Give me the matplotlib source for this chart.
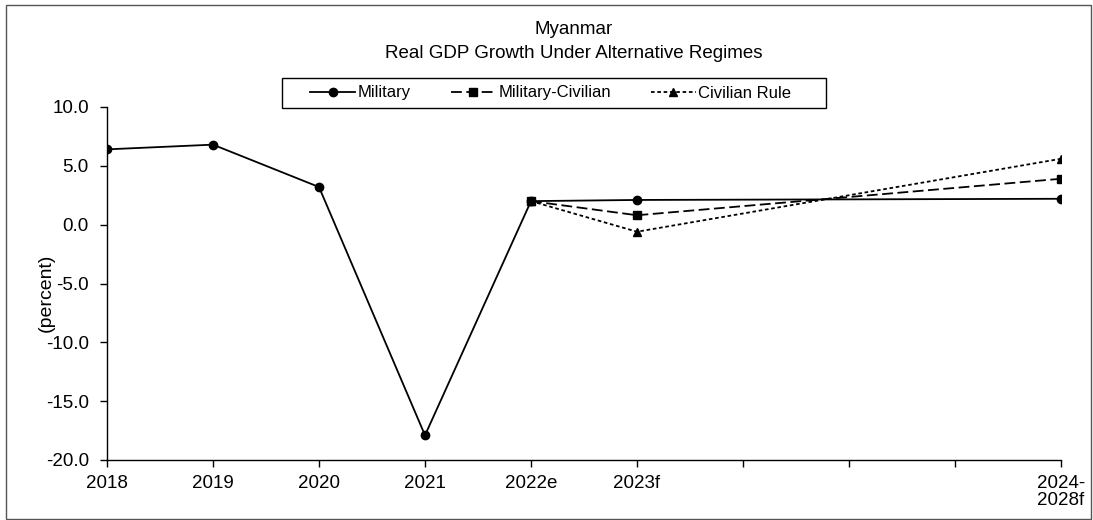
import numpy as np
import matplotlib
matplotlib.use("Agg")
import matplotlib.pyplot as plt
from matplotlib.patches import Rectangle

plt.rcParams['font.family'] = ['Liberation Sans', 'DejaVu Sans']

# chart data
categories = ["2018", "2019", "2020", "2021", "2022e", "2023f", "", "", "", "2024-\n2028f"]
military = [6.4, 6.8, 3.2, -17.9, 2.0, 2.1, np.nan, np.nan, np.nan, 2.2]
military_civilian = [np.nan, np.nan, np.nan, np.nan, 2.0, 0.8, np.nan, np.nan, np.nan, 3.9]
civilian_rule = [np.nan, np.nan, np.nan, np.nan, 2.0, -0.6, np.nan, np.nan, np.nan, 5.6]
yticks = [-20, -15, -10, -5, 0, 5, 10]

W, H = 1093, 520
fig = plt.figure(figsize=(W / 100, H / 100), dpi=100)
# plot area in pixels: x 107..1061, y 107..460
ax = fig.add_axes([107 / W, 1 - 460 / H, (1061 - 107) / W, (460 - 107) / H])

x = np.arange(len(categories))


def plot_series(values, **kw):
    # Excel joins the points across empty categories
    vals = np.array(values, dtype=float)
    mask = ~np.isnan(vals)
    return ax.plot(x[mask], vals[mask], color='black', linewidth=1.3,
                   markersize=6, **kw)


plot_series(military, linestyle='-', marker='o', label='Military')
plot_series(military_civilian, linestyle=(0, (6, 2.5)), marker='s',
            label='Military-Civilian')
plot_series(civilian_rule, linestyle=(0, (2, 1.5)), marker='^',
            label='Civilian Rule')

ax.set_xlim(0, len(categories) - 1)
ax.set_ylim(-20, 10)
ax.set_yticks(yticks)
ax.set_yticklabels([f"{v:.1f}" for v in yticks])
ax.set_xticks(x)
ax.set_xticklabels(categories, va='top', linespacing=1.0)

for side in ['top', 'right']:
    ax.spines[side].set_visible(False)
for side in ['left', 'bottom']:
    ax.spines[side].set_linewidth(1.0)
    ax.spines[side].set_color('black')
ax.tick_params(axis='both', direction='out', length=5, width=1.0, labelsize=13.5,
               colors='black')
ax.tick_params(axis='x', pad=6)
ax.tick_params(axis='y', pad=8)

fig.text(574 / W, 1 - 30 / H, "Myanmar", ha='center', va='center', fontsize=13.5)
fig.text(574 / W, 1 - 53.5 / H, "Real GDP Growth Under Alternative Regimes",
         ha='center', va='center', fontsize=13.5)
fig.text(46 / W, 1 - 293 / H, "(percent)", rotation=90, ha='center',
         va='center', fontsize=14)

leg = ax.legend(loc='center left', bbox_to_anchor=(310 / W, 1 - 93 / H),
                bbox_transform=fig.transFigure, ncol=3, fontsize=12,
                frameon=False, borderpad=0, borderaxespad=0,
                handlelength=2.7, handletextpad=0.15, columnspacing=2.4)

# legend box and chart area border
fig.patches.append(Rectangle((282 / W, 1 - 108 / H), (826 - 282) / W, 30 / H,
                             transform=fig.transFigure, fill=False,
                             edgecolor='black', linewidth=1.0))
fig.patches.append(Rectangle((6 / W, 0.002), 1 - 8 / W, 1 - 5 / H - 0.002,
                             transform=fig.transFigure, fill=False,
                             edgecolor='#555555', linewidth=1.0))

fig.savefig('out.png', dpi=100)
